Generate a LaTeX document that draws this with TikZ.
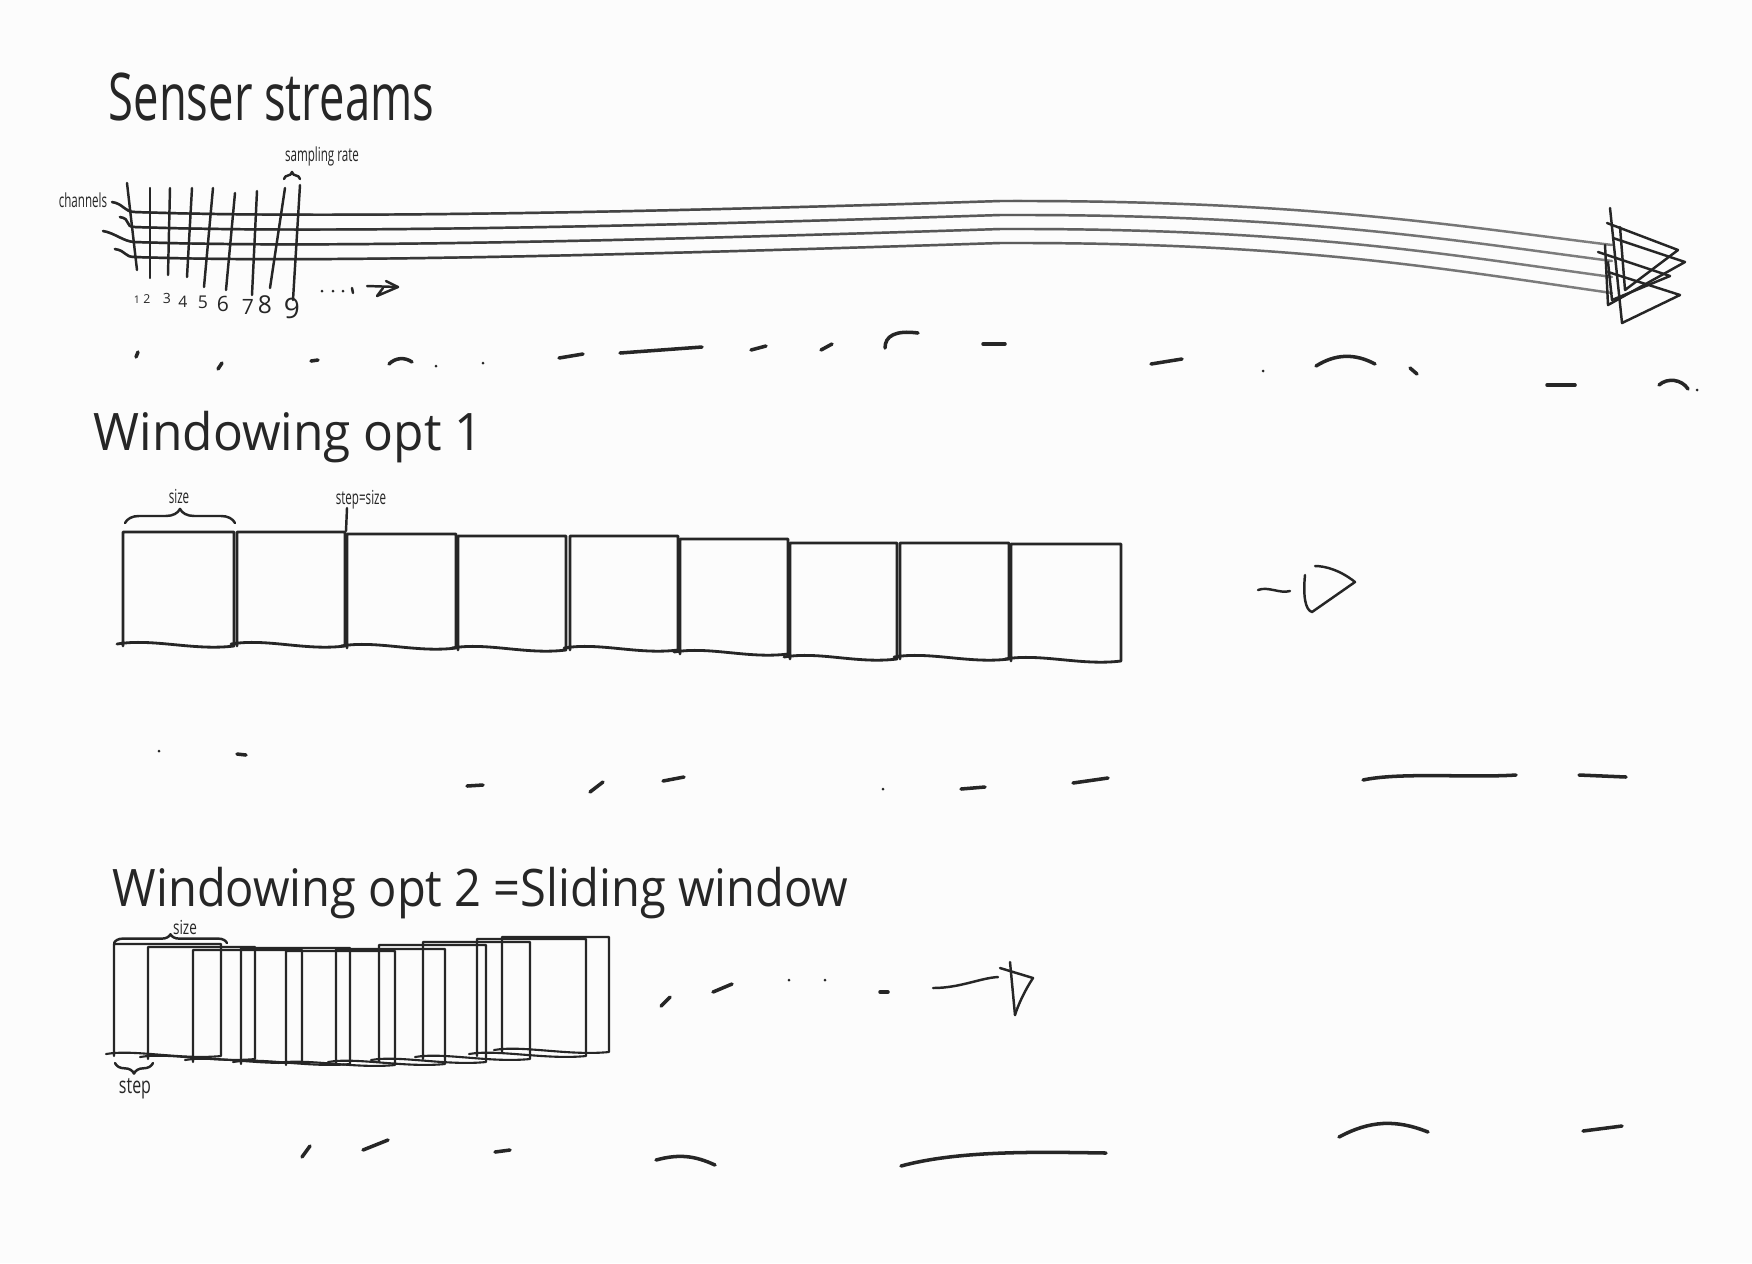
\documentclass[tikz,border=0pt]{standalone}
\usepackage{fontspec}
\setmainfont{Open Sans}
\usetikzlibrary{decorations.pathreplacing,fadings}
\definecolor{ink}{HTML}{262626}
\definecolor{fade}{HTML}{808080}
\definecolor{paper}{HTML}{FCFCFC}
\newcommand{\hw}[2]{\scalebox{#1}[1]{#2}}
\tikzfading[name=streamfade, left color=transparent!0, middle color=transparent!15, right color=transparent!100]

\begin{document}
\begin{tikzpicture}[x=0.01cm,y=-0.01cm,
  every node/.style={inner sep=0pt,text=ink},
  pen/.style={draw=ink,line width=0.7pt,line cap=round,line join=round},
  faded/.style={pen,draw=fade},
  winbox/.style={pen,line width=0.8pt},
  slidebox/.style={pen,line width=0.6pt},
  scrap/.style={pen,line width=1pt},
  bracepen/.style={pen,decorate,decoration={brace,amplitude=#1}},
  head/.style={font=\fontsize{14.7}{15}\selectfont,anchor=base west,text depth=0pt},
  tiny/.style={font=\fontsize{5.5}{6}\selectfont}
]
  \fill[paper] (0,0) rectangle (1752,1263);
  \useasboundingbox (0,0) rectangle (1752,1263);

  \node[head,font=\fontsize{18.7}{19}\selectfont] (tstream) at (108,120) {\hw{0.69}{Senser streams}};
  \node[head] (topt1) at (93,450) {\hw{0.96}{Windowing opt 1}};
  \node[head] (topt2) at (112,906) {\hw{0.91}{Windowing opt 2 =Sliding window}};

  % sensor streams
  \node[tiny] (lchan) at (83,200) {\hw{0.6}{channels}};
  \node[tiny] (lrate) at (322,156) {\hw{0.6}{sampling rate}};
  \foreach \k/\sx/\sy in {0/112/202, 1/120/217, 2/103/231, 3/115/249} {
    \draw[faded] (\sx,\sy) .. controls (\sx+12,\sy+2) and (124,212+\k*15) .. (135,212+\k*15)
      .. controls (300,218+\k*15) and (600,214+\k*14) .. (1000,201+\k*14)
      .. controls (1300,200+\k*14) and (1450,225+\k*15) .. (1612,245+\k*16);
    \draw[pen,path fading=streamfade] (\sx,\sy) .. controls (\sx+12,\sy+2) and (124,212+\k*15) .. (135,212+\k*15)
      .. controls (300,218+\k*15) and (600,214+\k*14) .. (1000,201+\k*14)
      .. controls (1300,200+\k*14) and (1450,225+\k*15) .. (1612,245+\k*16);
  }
  \foreach \xa/\ya/\xb/\yb in {127/183/137/270, 150/188/150/278, 170/188/168/275, 192/188/187/277,
    213/188/204/287, 235/193/226/290, 257/191/252/295, 285/188/270/288, 300/185/293/300}
    \draw[pen] (\xa,\ya) -- (\xb,\yb);
  \foreach \i/\x/\y/\s in {1/137/300/3, 2/147/299/3.5, 3/167/298/4, 4/183/302/4.5, 5/203/302/5,
    6/223/304/6, 7/248/307/6, 8/265/305/7, 9/292/308/8}
    \node[font=\fontsize{\s}{\s}\selectfont] (n\i) at (\x,\y) {\i};
  \draw[bracepen=2pt] (284,179) -- (300,179);
  \foreach \x in {322,333,343} \fill[ink] (\x,291) circle (1.5);
  \draw[pen] (352,288) -- (353,293);
  \draw[pen] (367,286) -- (398,287);
  \draw[pen] (386,281) -- (398,287) -- (377,296) -- (383,288);
  \draw[pen] (1607,223) -- (1678,250) -- (1625,290) -- (1620,227);
  \draw[pen] (1613,238) -- (1685,262) -- (1608,305) -- (1605,245);
  \draw[pen] (1598,252) -- (1670,276) -- (1612,300) -- (1608,262);
  \draw[pen] (1608,272) -- (1680,295) -- (1622,323) -- (1610,208);

  % windowing opt 1
  \foreach \l/\r/\t/\b in {123/234/532/646, 237/345/532/646, 347/456/534/648, 458/566/536/650,
    570/678/536/650, 680/788/539/654, 790/897/543/659, 900/1009/543/659, 1011/1121/544/661}
    \draw[winbox] (\l-6,\b-2) .. controls (\l+30,\b-8) and (\r-40,\b+5) .. (\r,\b) -- (\r,\t) -- (\l,\t) -- (\l,\b);
  \draw[bracepen=4pt] (125,523) -- (235,523);
  \node[tiny] (lsize1) at (179,496) {\hw{0.6}{size}};
  \node[tiny] (lstep1) at (361,500) {\hw{0.6}{step=size}};
  \draw[pen] (347,508) -- (346,531);
  \draw[pen] (1258,590) .. controls (1268,586) and (1280,594) .. (1290,591);
  \draw[pen] (1305,575) .. controls (1303,595) and (1305,610) .. (1312,612) -- (1355,582)
    .. controls (1340,570) and (1325,566) .. (1315,566);

  % windowing opt 2
  \foreach \l/\r/\t/\b in {114/221/944/1056, 148/255/947/1059, 193/302/950/1062, 241/350/948/1064,
    286/395/951/1065, 336/445/949/1064, 379/486/945/1062, 423/530/942/1059, 477/586/939/1056, 502/609/937/1052}
    \draw[slidebox] (\l-8,\b-2) .. controls (\l+20,\b-7) and (\r-40,\b+4) .. (\r,\b) -- (\r,\t) -- (\l,\t) -- (\l,\b);
  \draw[bracepen=2.5pt] (114,943) -- (227,943);
  \node[tiny] (lsize2) at (185,927) {\hw{0.7}{size}};
  \draw[bracepen=3pt] (153,1063) -- (115,1063);
  \node[tiny,font=\fontsize{6.5}{7}\selectfont] (lstep2) at (135,1089) {\hw{0.7}{step}};
  \draw[scrap] (661,1006) -- (670,997);
  \draw[scrap] (713,992) -- (732,984);
  \foreach \x in {789,825} \fill[ink] (\x,980) circle (1.5);
  \draw[scrap] (880,992) -- (888,992);
  \draw[pen] (933,988) .. controls (960,988) and (980,978) .. (998,977);
  \draw[pen] (1000,968) -- (1033,978) .. controls (1025,990) and (1018,1005) .. (1015,1015);
  \draw[pen] (1010,962) -- (1015,1015);

  % scraps
  \foreach \xa/\ya/\xb/\yb in {136/357/138/352, 218/369/222/363, 311/361/318/360, 559/358/583/354,
    620/353/702/347, 751/350/766/346, 821/350/832/344, 983/344/1005/344, 1151/364/1182/359,
    1410/368/1417/374, 1547/385/1575/385,
    237/754/246/755, 467/786/483/785, 590/792/603/782, 663/781/684/777, 961/789/985/787,
    1073/783/1108/778, 1579/775/1626/777,
    302/1157/310/1146, 363/1150/388/1140, 495/1152/510/1150, 1583/1131/1622/1126}
    \draw[scrap] (\xa,\ya) -- (\xb,\yb);
  \draw[scrap] (389,364) to[bend left=40] (412,362);
  \draw[scrap] (885,348) .. controls (885,336) and (895,330) .. (918,333);
  \draw[scrap] (1316,366) to[bend left=30] (1375,364);
  \draw[scrap] (1659,385) to[bend left=50] (1688,389);
  \draw[scrap] (1363,780) .. controls (1400,772) and (1470,778) .. (1516,775);
  \draw[scrap] (656,1160) to[bend left=20] (715,1165);
  \draw[scrap] (901,1166) .. controls (960,1150) and (1040,1152) .. (1106,1153);
  \draw[scrap] (1339,1137) to[bend left=25] (1428,1132);
  \foreach \x/\y in {436/366, 483/363, 1263/371, 1697/390, 159/751, 883/789}
    \fill[ink] (\x,\y) circle (1.5);
\end{tikzpicture}
\end{document}
